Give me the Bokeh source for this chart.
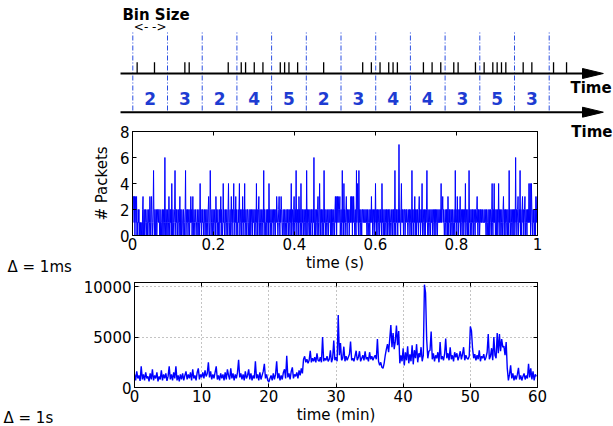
from bokeh.plotting import figure
from bokeh.layouts import column, row
from bokeh.models import Range1d, LinearAxis, FixedTicker, NumeralTickFormatter
from bokeh.core.properties import value
from bokeh.embed import file_html
from bokeh.resources import INLINE

# ---------------- data: schematic (top) ----------------
BIN_EDGES = [0, 1, 2, 3, 4, 5, 6, 7, 8, 9, 10, 11, 12]
BIN_COUNTS = [2, 3, 2, 4, 5, 2, 3, 4, 4, 3, 5, 3]
PACKET_TIMES = [0.125, 0.625, 1.5, 1.625, 2.75, 3.125, 3.25, 3.5, 3.75, 4.25, 4.375,
                4.5, 4.75, 5.5, 6.625, 6.875, 7.125, 7.375, 7.5, 7.625, 8.375, 8.625,
                8.875, 9.25, 9.375, 9.875, 10.125, 10.375, 10.5, 10.625, 10.75, 11.25,
                11.5, 12.125, 12.5]

# ---------------- data: packets per 1 ms over 1 s ----------------
PKT_1MS = [
    3,2,3,3,1,3,0,3,2,1, 3,0,1,0,2,1,2,0,1,0, 1,0,0,1,0,2,3,0,1,2, 0,1,2,1,0,1,2,0,1,1, 2,0,1,3,1,0,2,3,1,0,
    1,2,5,1,0,2,2,0,1,2, 0,1,2,2,1,2,2,0,1,0, 2,1,0,1,2,0,1,2,0,1, 6,1,0,2,1,0,2,1,0,1, 3,1,0,2,1,2,0,4,1,0,
    2,1,0,1,2,5,1,0,2,1, 2,0,1,1,2,0,1,3,0,2, 1,0,2,1,1,0,2,1,0,1, 2,5,0,1,2,1,2,0,1,2, 1,0,2,1,3,1,2,0,1,3,
    0,1,2,1,0,1,2,1,1,0, 2,1,0,1,2,0,1,4,1,2, 0,1,2,1,2,0,1,1,2,0, 1,2,0,1,2,1,0,2,3,1, 0,1,5,2,0,1,2,1,0,2,
    1,0,2,1,1,0,3,1,2,0, 1,2,0,1,0,2,1,1,3,0, 2,1,0,1,4,1,2,0,1,1, 2,0,1,2,1,0,2,4,1,0, 1,2,0,1,3,1,0,2,1,2,
    4,0,1,2,1,3,0,2,1,1, 0,2,1,2,4,0,1,2,1,0, 2,1,3,0,1,2,1,4,0,1, 2,1,0,2,2,1,0,1,2,0, 1,2,0,1,2,1,0,2,1,1,
    2,0,1,2,1,0,4,1,2,0, 1,2,3,0,1,2,1,0,2,1, 0,1,2,1,5,0,2,1,1,0, 2,1,0,2,1,2,0,4,1,2, 0,1,2,1,0,2,1,1,2,0,
    1,2,1,0,2,1,3,2,1,0, 1,2,3,1,0,2,1,3,2,1, 0,1,2,1,0,2,1,0,1,2, 1,0,2,1,2,0,1,2,1,0, 2,1,4,0,1,2,1,0,2,3,
    1,0,2,1,5,1,0,2,1,2, 0,3,1,2,0,1,4,1,0,2, 1,2,0,1,2,1,0,2,1,0, 5,1,2,0,1,2,1,0,2,1, 0,2,1,2,0,1,2,1,6,0,
    1,2,0,1,2,1,0,2,3,1, 0,2,4,1,0,2,1,2,0,1, 2,0,1,5,1,2,0,1,2,1, 0,1,2,1,0,2,1,1,2,0, 1,2,0,2,1,0,1,2,1,0,
    2,3,1,3,0,2,3,1,3,2, 1,2,3,0,1,2,1,0,5,1, 2,0,4,1,2,0,1,2,3,1, 0,2,1,1,2,0,1,2,1,3, 1,3,2,0,3,1,3,2,1,0,
    2,1,0,5,1,2,4,1,0,5, 1,2,0,1,2,1,0,2,2,1, 1,2,1,1,2,1,1,2,1,0, 2,1,0,1,2,1,0,2,1,1, 3,1,2,0,1,2,1,0,2,1,
    4,1,0,2,1,2,0,1,2,1, 0,2,1,2,1,0,4,1,2,0, 1,2,0,1,2,1,0,2,1,2, 0,1,2,1,0,2,2,1,0,1, 2,1,0,2,1,2,0,1,5,1,
    0,2,1,2,1,0,2,1,7,1, 2,1,0,2,4,1,2,1,2,0, 1,2,2,0,1,2,1,2,2,1, 0,1,2,1,2,0,1,2,1,0, 5,1,2,0,1,2,1,3,0,2,
    1,0,2,1,2,1,0,2,3,1, 2,0,1,2,1,4,0,1,2,1, 0,2,1,0,2,1,2,5,1,0, 2,1,0,1,2,1,0,2,1,1, 2,0,1,2,1,0,2,1,2,0,
    1,2,1,0,2,1,1,2,1,1, 2,1,4,1,2,2,3,1,2,1, 0,1,2,1,0,2,1,2,0,3, 1,0,2,1,2,0,1,2,1,0, 2,1,0,1,2,1,0,5,1,2,
    1,0,3,1,2,0,1,2,1,3, 0,1,2,1,0,2,1,2,0,1, 2,1,4,0,1,2,1,0,2,1, 0,5,1,2,0,1,2,1,0,2, 1,2,0,1,2,1,0,2,1,1,
    2,3,1,0,2,1,2,0,1,2, 1,2,1,1,2,1,1,1,2,1, 1,2,1,0,2,1,0,1,2,0, 1,2,0,1,2,1,0,2,4,1, 0,2,1,4,1,2,0,1,2,0,
    1,2,0,1,4,1,2,0,1,2, 0,1,2,1,0,2,3,1,0,2, 1,2,0,1,2,1,0,2,1,0, 5,1,2,0,1,2,1,0,2,1, 0,2,1,2,0,1,6,1,2,0,
    1,2,3,0,1,2,1,5,0,2, 1,0,2,3,1,2,0,1,2,3, 0,1,2,1,0,2,1,2,1,4, 1,2,4,0,1,4,2,1,0,2, 1,2,0,1,2,0,3,1,2,3,
]
MS_TIME_S = [i / 1000 for i in range(len(PKT_1MS))]

# ---------------- data: packets per 1 s over 60 min (every 10 s) ----------------
PKT_1S = [
    1300, 700, 1600, 900, 1200, 650,   2100, 800, 1300, 700, 1500, 900,
    1100, 600, 1400, 800, 1800, 700,   1200, 900, 1500, 600, 1100, 800,
    1700, 700, 1300, 900, 1400, 650,   1100, 2100, 800, 1300, 700, 1500,
    900, 2100, 700, 1200, 600, 1300,   800, 1400, 700, 1200, 1600, 800,
    1300, 900, 1500, 700, 1800, 900,   1200, 700, 1500, 1900, 800, 1300,
    1000, 1500, 900, 1700, 1100, 1400, 2500, 1000, 1600, 800, 1300, 900,
    1500, 2100, 800, 1200, 700, 1400,  900, 1300, 700, 1500, 800, 1800,
    1200, 800, 1900, 900, 1400, 700,   1300, 900, 1500, 2750, 1000, 1400,
    800, 1300, 700, 1600, 900, 1200,   1800, 800, 1400, 700, 1200, 900,
    2600, 900, 1300, 700, 1500, 800,   1200, 1600, 2350, 900, 1300, 700,
    550, 900, 1200, 700, 1400, 800,    1300, 2600, 900, 1400, 700, 1200,
    800, 1500, 1800, 900, 3150, 1000,  1400, 800, 1600, 2000, 900, 1300,
    1100, 1500, 900, 1700, 1200, 1900, 1400, 2800, 3100, 2500, 2800, 2400,
    2700, 3650, 2500, 2900, 2600, 3000, 2500, 3400, 2700, 2600, 3000, 2500,
    5000, 2600, 2900, 2700, 3100, 2600, 2800, 3700, 2500, 2900, 4650, 2700,
    3000, 2600, 7200, 3200, 4400, 2700, 2900, 4050, 2600, 3100, 2700, 3000,
    3300, 4550, 2700, 2900, 2600, 3100, 3650, 2700, 3000, 3600, 2600, 2900,
    3200, 2700, 3600, 2800, 3000, 2600, 3500, 2800, 3100, 2700, 3000, 3200,
    2800, 4800, 2600, 2200, 2500, 2000, 1900, 2400, 3200, 3800, 4300, 3500,
    4800, 6200, 4000, 5400, 3800, 4600, 6150, 4200, 5600, 2400, 3200, 2600,
    3900, 2200, 3500, 2700, 4100, 2400, 3300, 2600, 4200, 2300, 3700, 2900,
    4300, 2500, 3400, 3000, 4000, 2600, 3200, 10200, 9400, 4800, 2900, 3600,
    3700, 5550, 2800, 3400, 2600, 3200, 2900, 3500, 2500, 4500, 2800, 3100,
    2700, 3300, 4850, 2900, 3400, 2700, 4000, 2800, 3200, 2600, 3500, 3000,
    3400, 2700, 3100, 3600, 2800, 3300, 4000, 2700, 3200, 2900, 2800, 3100,
    6050, 5650, 3850, 2900, 3300, 2700, 3200, 2800, 3700, 2600, 3100, 2900,
    3300, 2700, 3000, 3500, 5300, 2800, 3100, 3900, 2700, 5000, 3200, 2900,
    5400, 3400, 5300, 3600, 4800, 4000, 4100, 3200, 4500, 1900, 700, 1300,
    2200, 900, 1400, 700, 1200, 800,   1300, 1950, 800, 1200, 700, 1100,
    1400, 800, 1200, 900, 2350, 1000,  1900, 800, 1600, 700, 1300, 1100,
]
S_TIME_MIN = [i / 6 for i in range(len(PKT_1S))]

MID_X_TICKS = [0, 0.2, 0.4, 0.6, 0.8, 1]
MID_Y_TICKS = [0, 2, 4, 6, 8]
BOT_X_TICKS = [0, 10, 20, 30, 40, 50, 60]
BOT_Y_TICKS = [0, 5000, 10000]

FONT = "DejaVu Sans"
BLUE = "#0000ff"
DIGIT_BLUE = "#1e3cd2"
DASH_BLUE = "#2a4ee0"
W = 613
MID_H, BOT_H = 150, 152
MID_LEFT_W, MID_RIGHT_W, BOT_LEFT_W = 85, 68, 70


def blank(width, height):
    """A figure with no axes, used as a text panel; ranges are in pixels."""
    f = figure(width=width, height=height, x_range=Range1d(0, width), y_range=Range1d(0, height),
               x_axis_location=None, y_axis_location=None, min_border=0,
               output_backend="svg", toolbar_location=None)
    f.frame_align = False
    f.xgrid.visible = False
    f.ygrid.visible = False
    f.outline_line_color = None
    return f


# ---------------- top schematic ----------------
top = figure(width=W, height=124, x_range=Range1d(-3.813, 13.853), y_range=Range1d(-51, 73),
             x_axis_location=None, y_axis_location=None, min_border=0,
             output_backend="svg", toolbar_location=None)
top.frame_align = False
top.xgrid.visible = False
top.ygrid.visible = False
top.outline_line_color = None

AX_START = -0.354
AX_TIP = 13.56
HEAD_LEN = 0.6
ROW1_Y, ROW2_Y = 0, -38.7

top.segment(x0=PACKET_TIMES, y0=0, x1=PACKET_TIMES, y1=11.3, line_color="black", line_width=1.3)
top.segment(x0=BIN_EDGES, y0=-37, x1=BIN_EDGES, y1=41, line_color=DASH_BLUE, line_width=1,
            line_dash="5 2 1 2")
top.segment(x0=[AX_START, AX_START], y0=[ROW1_Y, ROW2_Y], x1=[AX_TIP - HEAD_LEN, AX_TIP - HEAD_LEN],
            y1=[ROW1_Y, ROW2_Y], line_color="black", line_width=2)
top.patches(xs=[[AX_TIP - HEAD_LEN, AX_TIP, AX_TIP - HEAD_LEN]] * 2,
            ys=[[ROW1_Y + 5, ROW1_Y, ROW1_Y - 5], [ROW2_Y + 5, ROW2_Y, ROW2_Y - 5]],
            fill_color="black", line_color="black")
top.text(x=[e + 0.5 for e in BIN_EDGES[:-1]], y=[-25] * len(BIN_COUNTS),
         text=[str(c) for c in BIN_COUNTS], text_font=value(FONT), text_font_style="bold",
         text_font_size="17px", text_color=DIGIT_BLUE, text_align="center", text_baseline="middle")
top.text(x=[13.8], y=[-14], text=["Time"], text_font=value(FONT), text_font_style="bold",
         text_font_size="15px", text_color="black", text_align="right", text_baseline="middle")
top.text(x=[-0.3], y=[59], text=["Bin Size"], text_font=value(FONT), text_font_style="bold",
         text_font_size="15px", text_color="black", text_align="left", text_baseline="middle")
top.text(x=[0.5], y=[47], text=["<- ->"], text_font=value(FONT),
         text_font_size="12px", text_color="black", text_align="center", text_baseline="middle")


def style_axes(p, xticks, yticks):
    p.frame_align = False
    for ax in list(p.below) + list(p.left):
        ax.major_tick_in = 4
        ax.major_tick_out = 0
        ax.minor_tick_in = 0
        ax.minor_tick_out = 0
        ax.axis_line_color = "black"
        ax.major_tick_line_color = "black"
        ax.major_label_text_font = FONT
        ax.major_label_text_font_size = "15px"
        ax.major_label_text_color = "black"
        ax.axis_label_text_font = FONT
        ax.axis_label_text_font_size = "15px"
        ax.axis_label_text_font_style = "normal"
        ax.axis_label_text_color = "black"
    p.below[0].ticker = FixedTicker(ticks=xticks)
    p.left[0].ticker = FixedTicker(ticks=yticks)
    p.below[0].major_label_standoff = 2
    p.left[0].major_label_standoff = 3
    p.below[0].axis_label_standoff = 1
    p.outline_line_color = "black"
    p.outline_line_width = 1
    for loc, ticks in (("above", xticks), ("right", yticks)):
        ax = LinearAxis(ticker=FixedTicker(ticks=ticks), major_label_text_font_size="0px",
                        major_label_text_color=None, major_label_standoff=0,
                        major_tick_in=4, major_tick_out=0,
                        minor_tick_in=0, minor_tick_out=0, axis_line_color="black")
        p.add_layout(ax, loc)


# ---------------- middle: 1 ms bins ----------------
mid_w = W - MID_LEFT_W - MID_RIGHT_W
mid = figure(width=mid_w, height=MID_H, x_range=Range1d(0, 1), y_range=Range1d(0, 8),
             min_border_left=132 - MID_LEFT_W, min_border_right=mid_w - (132 - MID_LEFT_W) - 405,
             min_border_top=7, min_border_bottom=38,
             output_backend="svg", toolbar_location=None)
mid.line(MS_TIME_S, PKT_1MS, line_color=BLUE, line_width=1)
mid.xgrid.visible = False
mid.ygrid.visible = False
style_axes(mid, MID_X_TICKS, MID_Y_TICKS)
mid.below[0].formatter = NumeralTickFormatter(format="0.[0]")
mid.below[0].axis_label = "time (s)"
mid.left[0].axis_label = "# Packets"
mid.left[0].axis_label_standoff = 6

mid_left = blank(MID_LEFT_W, MID_H)
mid_left.text(x=[7], y=[8], text=["Δ = 1ms"], text_font=value(FONT), text_font_size="15px",
              text_color="black", text_align="left", text_baseline="middle")
mid_right = blank(MID_RIGHT_W, MID_H)
mid_right.text(x=[MID_RIGHT_W - 1], y=[MID_H - 7], text=["Time"], text_font=value(FONT),
               text_font_style="bold", text_font_size="15px", text_color="black",
               text_align="right", text_baseline="middle")

# ---------------- bottom: 1 s bins ----------------
bot_w = W - BOT_LEFT_W
bot = figure(width=bot_w, height=BOT_H, x_range=Range1d(0, 60), y_range=Range1d(0, 10420),
             min_border_left=134 - BOT_LEFT_W, min_border_right=bot_w - (134 - BOT_LEFT_W) - 403,
             min_border_top=8, min_border_bottom=39,
             output_backend="svg", toolbar_location=None)
bot.line(S_TIME_MIN, PKT_1S, line_color=BLUE, line_width=1.4)
style_axes(bot, BOT_X_TICKS, BOT_Y_TICKS)
for g in (bot.xgrid[0], bot.ygrid[0]):
    g.grid_line_color = "#888888"
    g.grid_line_dash = "1 3"
    g.grid_line_width = 1
bot.below[0].axis_label = "time (min)"

bot_left = blank(BOT_LEFT_W, BOT_H)
bot_left.text(x=[3], y=[9], text=["Δ = 1s"], text_font=value(FONT), text_font_size="15px",
              text_color="black", text_align="left", text_baseline="middle")

layout = column(top, row(mid_left, mid, mid_right), row(bot_left, bot))
open("out.html", "w").write(file_html(layout, INLINE))
